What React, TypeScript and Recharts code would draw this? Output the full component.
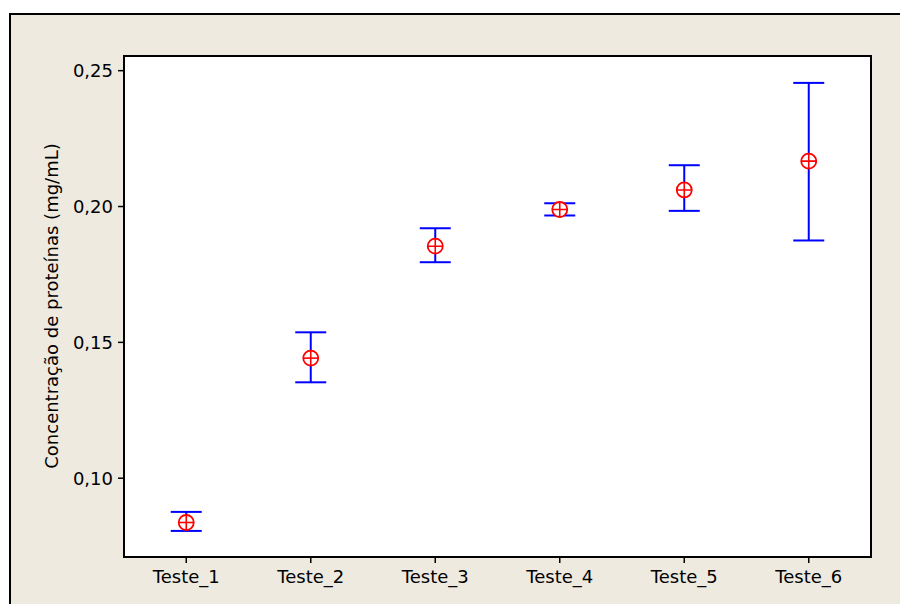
import React from 'react';
import { ComposedChart, Line, ErrorBar, XAxis, YAxis, CartesianGrid } from 'recharts';

const testes = ['Teste_1', 'Teste_2', 'Teste_3', 'Teste_4', 'Teste_5', 'Teste_6'];
const medias = [0.0837, 0.1442, 0.1854, 0.1989, 0.2061, 0.2167];
const limInf = [0.0806, 0.1353, 0.1795, 0.1967, 0.1984, 0.1875];
const limSup = [0.0876, 0.1537, 0.192, 0.2012, 0.2152, 0.2455];
const yTicks = [0.1, 0.15, 0.2, 0.25];

const data = testes.map((t, i) => ({
  name: t,
  media: medias[i],
  erro: [medias[i] - limInf[i], limSup[i] - medias[i]],
}));

const FONT = '"DejaVu Sans", Tahoma, sans-serif';

const CircleCross = (props: any) => {
  const { cx, cy, index } = props;
  const r = 7.5;
  return (
    <g key={`dot-${index}`}>
      <circle cx={cx} cy={cy} r={r} fill="#fff" stroke="#ff0000" strokeWidth={1.8} />
      <line x1={cx - r} y1={cy} x2={cx + r} y2={cy} stroke="#ff0000" strokeWidth={1.6} />
      <line x1={cx} y1={cy - r} x2={cx} y2={cy + r} stroke="#ff0000" strokeWidth={1.6} />
    </g>
  );
};

const YLabel = () => (
  <text
    x={51}
    y={306}
    transform="rotate(-90, 51, 306)"
    textAnchor="middle"
    dominantBaseline="central"
    fontFamily={FONT}
    fontSize={18}
    fill="#000"
  >
    Concentração de proteínas (mg/mL)
  </text>
);

export default function App() {
  return (
    <div style={{ position: 'absolute', left: 0, top: 0, width: 900, height: 604, overflow: 'hidden', background: '#fff' }}>
      <div
        style={{
          position: 'absolute',
          left: 9,
          top: 13,
          width: 950,
          height: 650,
          background: '#EEEAE0',
          border: '2px solid #000',
        }}
      />
      <div style={{ position: 'absolute', left: 0, top: 0 }}>
        <ComposedChart width={900} height={604} data={data} margin={{ top: 56, right: 29, left: 0, bottom: 0 }}>
          <CartesianGrid horizontal={false} vertical={false} fill="#fff" />
          <XAxis
            dataKey="name"
            scale="band"
            height={47}
            axisLine={false}
            tickSize={6}
            tickMargin={7}
            tick={{ fill: '#000', fontFamily: FONT, fontSize: 18 }}
            tickLine={{ stroke: '#000', strokeWidth: 1.5 }}
          />
          <YAxis
            width={124}
            domain={[0.071, 0.2554]}
            ticks={yTicks}
            type="number"
            allowDataOverflow
            axisLine={false}
            tickSize={6}
            tickMargin={5}
            tick={{ fill: '#000', fontFamily: FONT, fontSize: 18 }}
            tickLine={{ stroke: '#000', strokeWidth: 1.5 }}
            tickFormatter={(v) => Number(v).toFixed(2).replace('.', ',')}
            label={<YLabel />}
          />
          <Line
            dataKey="media"
            stroke="none"
            dot={CircleCross}
            activeDot={false}
            isAnimationActive={false}
          >
            <ErrorBar dataKey="erro" width={15.5} stroke="#0000ff" strokeWidth={2} isAnimationActive={false} />
          </Line>
        </ComposedChart>
      </div>
      {/* moldura da área do gráfico */}
      <div
        style={{
          position: 'absolute',
          left: 123,
          top: 55,
          width: 749,
          height: 503,
          boxSizing: 'border-box',
          border: '2px solid #000',
          pointerEvents: 'none',
        }}
      />
    </div>
  );
}
